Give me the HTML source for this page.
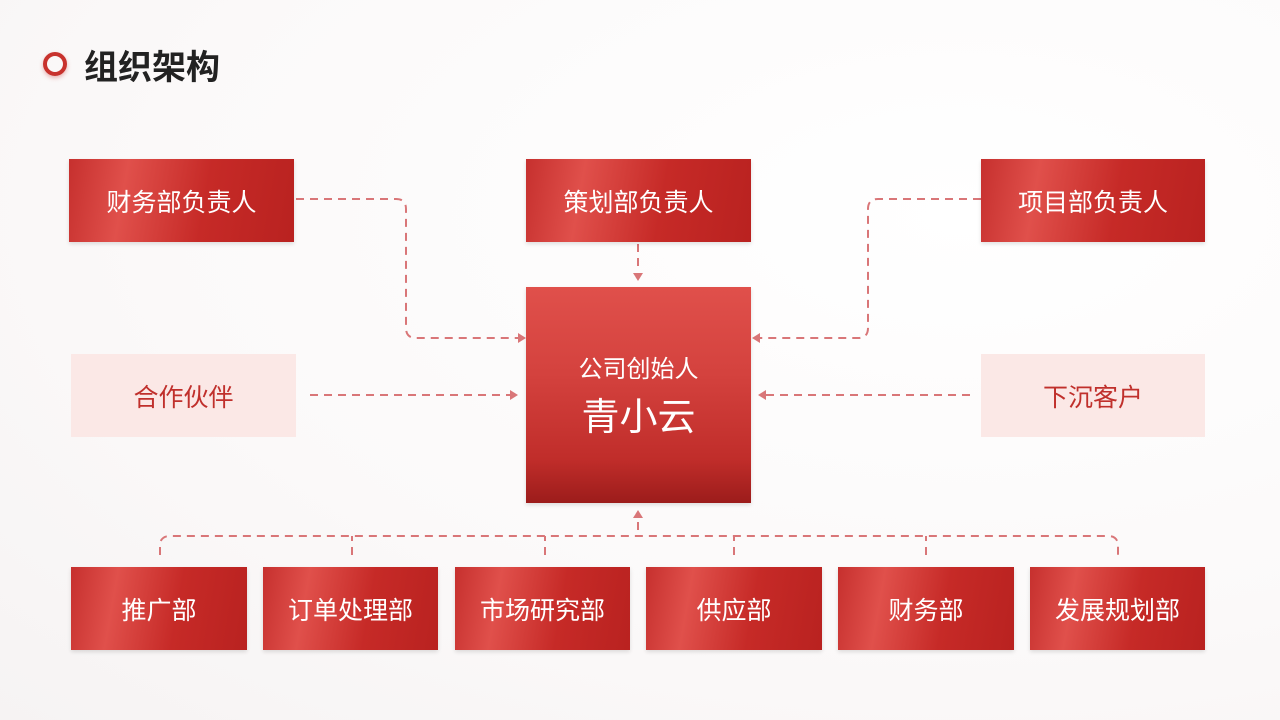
<!DOCTYPE html>
<html><head><meta charset="utf-8"><style>
body{margin:0;width:1280px;height:720px;overflow:hidden;background:radial-gradient(ellipse at 75% 30%,#fff 0%,#fbf9f9 60%,#f6f3f3 100%);font-family:"Liberation Sans","Noto Sans CJK SC",sans-serif;position:relative}
.b{position:absolute;display:flex;align-items:center;justify-content:center;color:#fff;font-size:25px;background:linear-gradient(100deg,#c6302e 0%,#e0504b 25%,#c62a27 60%,#b92220 100%);box-shadow:0 2px 4px rgba(0,0,0,.12)}
.p{position:absolute;display:flex;align-items:center;justify-content:center;color:#c0302c;font-size:25px;background:#fbe8e6}
svg{position:absolute;left:0;top:0}
</style></head><body>
<div style="position:absolute;left:43px;top:52px;width:16px;height:16px;border:4px solid #c8322d;border-radius:50%;box-shadow:0 2px 4px rgba(200,50,45,.35)"></div>
<div style="position:absolute;left:84px;top:40px;font-size:34px;font-weight:bold;color:#222">组织架构</div>
<svg width="1280" height="720" fill="none" stroke="#d97678" stroke-width="2" stroke-dasharray="8,6">
<path d="M296 199H396Q406 199 406 209V328Q406 338 416 338H518"/>
<path d="M981 199H878Q868 199 868 209V328Q868 338 858 338H760"/>
<path d="M638 244V272"/>
<path d="M310 395H510"/>
<path d="M970 395H766"/>
<path d="M638 530V512"/>
<path d="M160 555V546Q160 536 170 536H1108Q1118 536 1118 546V555"/>
<path d="M352 555V536M545 555V536M734 555V536M926 555V536"/>
<g stroke="none" fill="#d97678">
<path d="M633 273l5 8 5-8z"/><path d="M518 333l8 5-8 5z"/><path d="M760 333l-8 5 8 5z"/>
<path d="M510 390l8 5-8 5z"/><path d="M766 390l-8 5 8 5z"/><path d="M633 518l5-8 5 8z"/>
</g></svg>
<div class="b" style="left:69px;top:159px;width:225px;height:83px">财务部负责人</div>
<div class="b" style="left:526px;top:159px;width:225px;height:83px">策划部负责人</div>
<div class="b" style="left:981px;top:159px;width:224px;height:83px">项目部负责人</div>
<div class="p" style="left:71px;top:354px;width:225px;height:83px">合作伙伴</div>
<div class="p" style="left:981px;top:354px;width:224px;height:83px">下沉客户</div>
<div class="b" style="left:526px;top:287px;width:225px;height:216px;flex-direction:column;background:linear-gradient(180deg,#e0504b 0%,#d4423e 40%,#c02d2a 80%,#9c1c1b 100%)"><div style="font-size:24px">公司创始人</div><div style="font-size:38px;margin-top:2px">青小云</div></div>
<div class="b" style="left:71px;top:567px;width:176px;height:83px">推广部</div>
<div class="b" style="left:263px;top:567px;width:175px;height:83px">订单处理部</div>
<div class="b" style="left:455px;top:567px;width:175px;height:83px">市场研究部</div>
<div class="b" style="left:646px;top:567px;width:176px;height:83px">供应部</div>
<div class="b" style="left:838px;top:567px;width:176px;height:83px">财务部</div>
<div class="b" style="left:1030px;top:567px;width:175px;height:83px">发展规划部</div>
</body></html>
